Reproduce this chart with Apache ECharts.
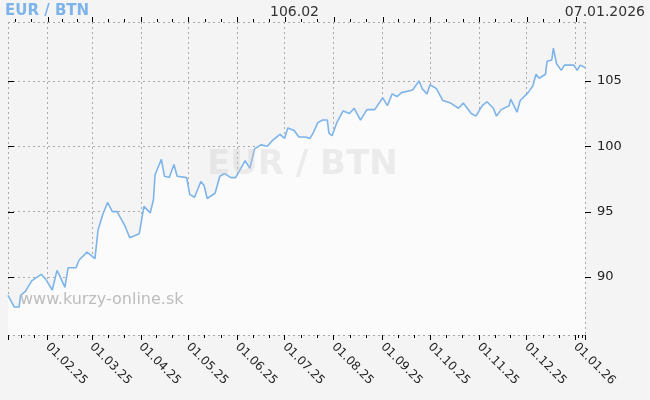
<!DOCTYPE html>
<html><head><meta charset="utf-8">
<script src="https://cdn.jsdelivr.net/npm/echarts@6/dist/echarts.min.js"></script>
<style>html,body{margin:0;padding:0;background:#f4f4f4}#c{width:650px;height:400px}</style>
</head><body><div id="c"></div>
<script>
const dates = ["2025-01-07","2025-01-11","2025-01-14","2025-01-15","2025-01-18","2025-01-22","2025-01-28","2025-01-31","2025-02-04","2025-02-07","2025-02-09","2025-02-12","2025-02-14","2025-02-19","2025-02-21","2025-02-26","2025-03-03","2025-03-05","2025-03-08","2025-03-11","2025-03-14","2025-03-17","2025-03-22","2025-03-25","2025-03-31","2025-04-03","2025-04-07","2025-04-09","2025-04-10","2025-04-14","2025-04-16","2025-04-19","2025-04-22","2025-04-24","2025-04-30","2025-05-02","2025-05-05","2025-05-09","2025-05-11","2025-05-13","2025-05-18","2025-05-21","2025-05-24","2025-05-28","2025-05-31","2025-06-06","2025-06-09","2025-06-12","2025-06-16","2025-06-20","2025-06-23","2025-06-28","2025-07-01","2025-07-03","2025-07-07","2025-07-10","2025-07-14","2025-07-17","2025-07-19","2025-07-22","2025-07-25","2025-07-28","2025-07-29","2025-07-31","2025-08-03","2025-08-07","2025-08-11","2025-08-14","2025-08-18","2025-08-22","2025-08-27","2025-09-01","2025-09-04","2025-09-07","2025-09-10","2025-09-13","2025-09-20","2025-09-24","2025-09-26","2025-09-29","2025-10-01","2025-10-05","2025-10-09","2025-10-14","2025-10-19","2025-10-22","2025-10-27","2025-10-30","2025-11-03","2025-11-06","2025-11-10","2025-11-12","2025-11-15","2025-11-20","2025-11-21","2025-11-25","2025-11-27","2025-12-02","2025-12-05","2025-12-07","2025-12-09","2025-12-13","2025-12-14","2025-12-17","2025-12-18","2025-12-20","2025-12-23","2025-12-25","2025-12-31","2026-01-02","2026-01-04","2026-01-07"];
const rates = [88.6,87.7,87.7,88.6,88.9,89.7,90.2,89.8,89.0,90.5,90.0,89.2,90.7,90.7,91.3,91.9,91.4,93.6,94.8,95.7,95.0,95.0,93.9,93.0,93.3,95.4,94.9,95.9,97.8,99.0,97.7,97.6,98.6,97.7,97.6,96.3,96.1,97.3,97.0,96.0,96.4,97.7,97.9,97.6,97.6,98.9,98.3,99.8,100.1,100.0,100.4,100.9,100.6,101.4,101.2,100.7,100.7,100.6,101.0,101.8,102.0,102.0,101.0,100.8,101.8,102.7,102.5,102.9,102.0,102.8,102.8,103.7,103.1,104.0,103.8,104.1,104.3,105.0,104.4,104.0,104.7,104.4,103.5,103.3,102.9,103.3,102.5,102.3,103.1,103.4,102.9,102.3,102.8,103.1,103.6,102.6,103.5,104.1,104.6,105.5,105.2,105.5,106.5,106.6,107.5,106.3,105.8,106.2,106.2,105.8,106.2,106.02];
const yTicks = [90,95,100,105];
const monthStarts = ["2025-01-01","2025-02-01","2025-03-01","2025-04-01","2025-05-01","2025-06-01","2025-07-01","2025-08-01","2025-09-01","2025-10-01","2025-11-01","2025-12-01","2026-01-01","2026-02-01"];
const title = "EUR / BTN", lastValue = "106.02", lastDate = "07.01.2026";
const FONT = "DejaVu Sans";
const data = dates.map((d,i)=>[d, rates[i]]);
const xMin = +new Date("2025-01-07"), xMax = +new Date("2026-01-07");
const yMin = 85.56, yMax = 109.5;
const fmt = v => { const d=new Date(v); const p=n=>String(n).padStart(2,'0'); return p(d.getDate())+'.'+p(d.getMonth()+1)+'.'+String(d.getFullYear()).slice(2); };
const chart = echarts.init(document.getElementById('c'));
const graphics = [
    {type:'text',left:5,top:4,style:{text:title,fill:'#7db4ea',font:'bold 15px "DejaVu Sans"'}},
    {type:'text',left:270,top:5,style:{text:lastValue,fill:'#333',font:'14px "DejaVu Sans"'}},
    {type:'text',right:5,top:5,style:{text:lastDate,fill:'#333',font:'14px "DejaVu Sans"'}},
    {type:'text',left:207,top:148,z:100,style:{text:title,fill:'rgba(200,200,200,0.3)',font:'bold 34px "DejaVu Sans"'}},
    {type:'text',left:20,top:292,z:100,style:{text:'www.kurzy-online.sk',fill:'#bdbdbd',font:'16px "DejaVu Sans"'}}
];
chart.setOption({
  backgroundColor:'#f4f4f4', animation:false,
  grid:{left:8,right:65,top:22,bottom:65},
  graphic:graphics,
  xAxis:{type:'time',min:xMin,max:xMax,splitNumber:12,
    axisLine:{show:false},
    axisTick:{show:true,length:5,lineStyle:{color:'#000'}},
    minorTick:{show:true,splitNumber:3,length:3,lineStyle:{color:'#000'}},
    axisLabel:{rotate:-45,color:'#222',fontFamily:FONT,fontSize:12,formatter:fmt,margin:10,showMinLabel:false,showMaxLabel:false},
    splitLine:{show:true,lineStyle:{color:'#aaa',type:[2,3]}}},
  yAxis:{type:'value',position:'right',min:yMin,max:yMax,
    axisLine:{show:false},axisTick:{show:false},
    axisLabel:{customValues:yTicks,color:'#222',fontFamily:FONT,fontSize:13,margin:12},
    splitLine:{show:true,lineStyle:{color:'#aaa',type:[2,3]}}},
  series:[{type:'line',data:data,showSymbol:false,z:5,
    lineStyle:{color:'#7db4ea',width:1.6},
    areaStyle:{color:'#fbfbfb',opacity:1}}]
});
const tickTexts = [];
try {
  const px = v => chart.convertToPixel({gridIndex:0}, [v, yMin])[0];
  const py = v => chart.convertToPixel({gridIndex:0}, [xMin, v])[1];
  const mark = (x,y,w,h)=>({type:'rect',left:x,top:y,z:50,shape:{width:w,height:h},style:{fill:'#000'}});
  const topY = Math.round(py(yMax)), leftX = Math.round(px(xMin)), rightX = Math.round(px(xMax));
  yTicks.forEach(v=>{
    const y = Math.round(py(v));
    tickTexts.push(mark(leftX, y, 6, 1));
    tickTexts.push(mark(rightX, y, 6, 1));
  });
  const ms = monthStarts.map(s=>+new Date(s));
  for (let i=0;i<ms.length-1;i++){
    for (let k=0;k<3;k++){
      const tm = ms[i] + (ms[i+1]-ms[i])*k/3;
      if (tm < xMin || tm > xMax) continue;
      const x = Math.round(px(tm));
      const h = k===0?5:3;
      tickTexts.push(mark(x, topY-h, 1, h));
    }
  }
} catch(e) {}
chart.setOption({graphic: graphics.concat(tickTexts)});
</script></body></html>
